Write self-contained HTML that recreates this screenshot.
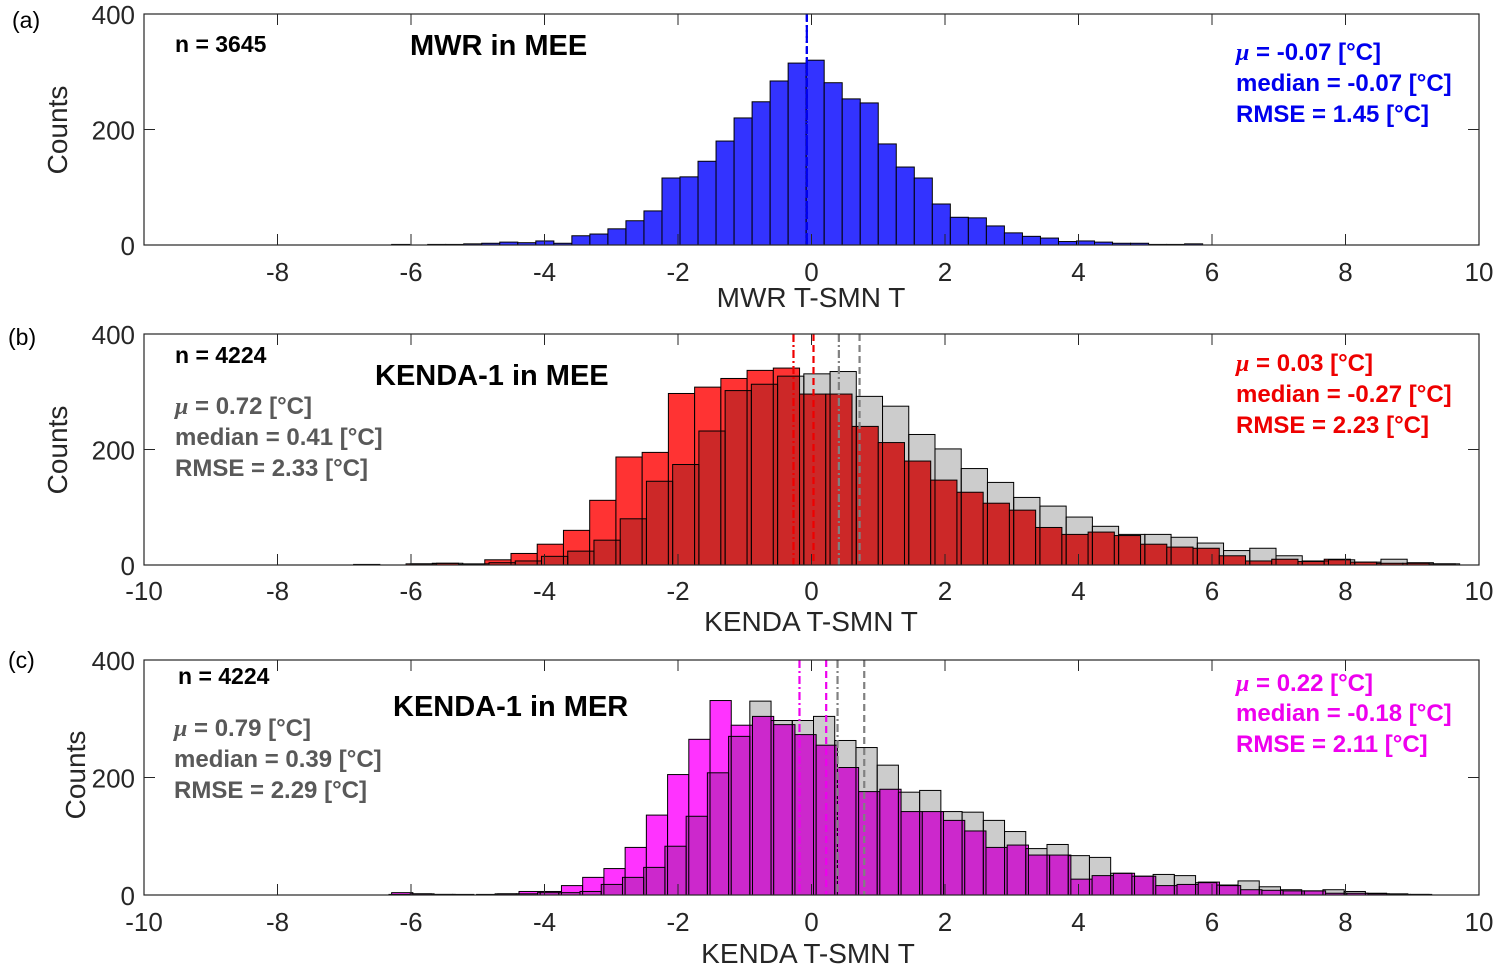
<!DOCTYPE html>
<html><head><meta charset="utf-8"><style>
html,body{margin:0;padding:0;background:#fff;}
svg{display:block;font-family:"Liberation Sans",Arial,sans-serif;}
.tick{font-size:26px;fill:#262626;}
</style></head><body>
<svg id="fig" width="1495" height="968" viewBox="0 0 1495 968" xmlns="http://www.w3.org/2000/svg"></svg>
<script>
// ---- data ----
const xTicks = [-10,-8,-6,-4,-2,0,2,4,6,8,10];
const yTicks = [0,200,400];
// panel a (MWR in MEE)
const mwrStart = -6.29, mwrWidth = 0.27;
const mwrCounts = [1,0,1,1,2,3,5,4,7,3,16,19,28,42,59,116,118,145,180,220,248,284,315,320,281,253,246,175,135,116,71,48,47,33,21,15,12,6,7,5,3,3,1,1,2];
const mwrLines = [-0.07,-0.07];
// panel b (KENDA-1 in MEE)
const meeStart = -6.86, meeWidth = 0.393;
const meeCounts = [1,0,2,3,1,9,20,36,60,112,187,195,297,308,323,337,341,296,296,240,212,180,147,126,107,95,65,53,57,51,36,31,29,16,7,10,6,10,5,3,3,2];
const refBStart = -6.01, refBWidth = 0.393;
const refBCounts = [2,3,2,4,7,15,24,43,80,145,174,232,302,313,327,331,335,292,275,226,201,167,143,117,102,83,67,53,53,48,38,25,29,16,7,9,5,10,4,2];
const meeLines = [-0.27,0.03];
const refBLines = [0.41,0.72];
// panel c (KENDA-1 in MER)
const merStart = -6.29, merWidth = 0.318;
const merCounts = [4,2,1,0,1,2,6,6,16,30,45,81,136,205,265,331,289,304,290,273,255,217,176,180,142,142,127,109,81,85,68,68,27,33,37,32,16,18,22,16,9,8,7,7,3,3,2,1,1];
const refCStart = -6.33, refCWidth = 0.318;
const refCCounts = [1,2,1,1,0,2,2,4,4,6,18,30,47,83,134,208,270,330,297,297,304,263,251,221,175,178,142,141,127,108,79,86,67,64,37,32,35,33,21,17,24,14,9,7,9,6,3,2,1];
const merLines = [-0.18,0.22];
const refCLines = [0.39,0.79];

const NS = "http://www.w3.org/2000/svg";
const svg = document.getElementById('fig');
function mk(tag, attrs, parent){
  const e = document.createElementNS(NS, tag);
  for (const k in attrs) e.setAttribute(k, attrs[k]);
  (parent||svg).appendChild(e);
  return e;
}
const X0 = 144, X1 = 1479;
function xs(v){ return X0 + (v + 10) / 20 * (X1 - X0); }

function panel(cfg){
  const g = mk('g', {});
  
  
  const top = cfg.top, bot = cfg.bot;
  const ys = v => bot - v / 400 * (bot - top);
  cfg.hists.forEach(h => {
    h.counts.forEach((c, i) => {
      if (c <= 0) return;
      const a = h.start + i * h.width, b = a + h.width;
      const r = mk('rect', {x: xs(a), y: ys(c), width: xs(b) - xs(a), height: bot - ys(c), fill: h.fill, stroke: '#000', 'stroke-width': 1}, g);
      
      
    });
  });
  cfg.lines.forEach(l => {
    const ln = mk('line', {x1: xs(l.v), x2: xs(l.v), y1: top, y2: bot, stroke: l.color, 'stroke-width': 2.2, 'stroke-dasharray': l.dash}, g);
    
    
  });
  const box = mk('rect', {x: X0, y: top, width: X1 - X0, height: bot - top, fill: 'none', stroke: '#262626', 'stroke-width': 1.2}, g);
  
  
  xTicks.forEach(t => {
    const x = xs(t);
    mk('line', {x1: x, x2: x, y1: bot, y2: bot - 11, stroke: '#262626', 'stroke-width': 1}, g);
    mk('line', {x1: x, x2: x, y1: top, y2: top + 11, stroke: '#262626', 'stroke-width': 1}, g);
    if (t === -10 && !cfg.showMinus10) return;
    const tx = mk('text', {x: x, y: cfg.xTickY, 'text-anchor': 'middle', class: 'tick'}, g);
    tx.textContent = String(t);
    
    
  });
  yTicks.forEach(t => {
    const y = ys(t);
    mk('line', {x1: X0, x2: X0 + 11, y1: y, y2: y, stroke: '#262626', 'stroke-width': 1}, g);
    mk('line', {x1: X1, x2: X1 - 11, y1: y, y2: y, stroke: '#262626', 'stroke-width': 1}, g);
    const tx = mk('text', {x: 135, y: y + 10, 'text-anchor': 'end', class: 'tick'}, g);
    tx.textContent = String(t);
    
    
  });
}

panel({name:'panel-a', top:14, bot:245, xTickY:281, showMinus10:false,
  hists:[{start:mwrStart,width:mwrWidth,counts:mwrCounts,fill:'#3333ff',barName:'mwr-bar'}],
  lines:[{v:mwrLines[0],color:'#0000ee',dash:'8 3 2 3',name:'mwr-median-line'},{v:mwrLines[1],color:'#0000ee',dash:'7 4',name:'mwr-mean-line'}]});
panel({name:'panel-b', top:334, bot:565, xTickY:600, showMinus10:true,
  hists:[{start:meeStart,width:meeWidth,counts:meeCounts,fill:'#ff3333',barName:'kenda-mee-bar'},
         {start:refBStart,width:refBWidth,counts:refBCounts,fill:'rgba(0,0,0,0.2)',barName:'reference-bar'}],
  lines:[{v:meeLines[0],color:'#ee0000',dash:'8 3 2 3',name:'kenda-median-line'},{v:meeLines[1],color:'#ee0000',dash:'7 4',name:'kenda-mean-line'},
         {v:refBLines[0],color:'#808080',dash:'8 3 2 3',name:'ref-median-line'},{v:refBLines[1],color:'#808080',dash:'7 4',name:'ref-mean-line'}]});
panel({name:'panel-c', top:660, bot:895, xTickY:931, showMinus10:true,
  hists:[{start:merStart,width:merWidth,counts:merCounts,fill:'#ff33ff',barName:'kenda-mer-bar'},
         {start:refCStart,width:refCWidth,counts:refCCounts,fill:'rgba(0,0,0,0.2)',barName:'reference-bar'}],
  lines:[{v:merLines[0],color:'#ee00ee',dash:'8 3 2 3',name:'kenda-median-line'},{v:merLines[1],color:'#ee00ee',dash:'7 4',name:'kenda-mean-line'},
         {v:refCLines[0],color:'#808080',dash:'8 3 2 3',name:'ref-median-line'},{v:refCLines[1],color:'#808080',dash:'7 4',name:'ref-mean-line'}]});
</script>
<svg style="position:absolute;left:0;top:0" width="1495" height="968" xmlns="http://www.w3.org/2000/svg" font-family="Liberation Sans, Arial, sans-serif">
  <g>
    <text x="12" y="28" font-size="23" fill="#000">(a)</text>
    <text transform="translate(67,130) rotate(-90)" text-anchor="middle" font-size="28" fill="#262626">Counts</text>
    <text x="811" y="307" text-anchor="middle" font-size="28" fill="#262626">MWR T-SMN T</text>
    <text x="175" y="52" font-size="23" font-weight="bold">n = 3645</text>
    <text x="410" y="55" font-size="29" font-weight="bold">MWR in MEE</text>
    <g fill="#0000ee" font-size="24" font-weight="bold">
      <text x="1236" y="60"><tspan font-family="Liberation Serif, serif" font-style="italic">μ</tspan> = -0.07 [°C]</text>
      <text x="1236" y="91">median = -0.07 [°C]</text>
      <text x="1236" y="122">RMSE = 1.45 [°C]</text>
    </g>
  </g>
  <g>
    <text x="8" y="345" font-size="23" fill="#000">(b)</text>
    <text transform="translate(67,450) rotate(-90)" text-anchor="middle" font-size="28" fill="#262626">Counts</text>
    <text x="811" y="631" text-anchor="middle" font-size="28" fill="#262626">KENDA T-SMN T</text>
    <text x="175" y="363" font-size="23" font-weight="bold">n = 4224</text>
    <text x="375" y="385" font-size="29" font-weight="bold">KENDA-1 in MEE</text>
    <g fill="#595959" font-size="24" font-weight="bold">
      <text x="175" y="414"><tspan font-family="Liberation Serif, serif" font-style="italic">μ</tspan> = 0.72 [°C]</text>
      <text x="175" y="445">median = 0.41 [°C]</text>
      <text x="175" y="476">RMSE = 2.33 [°C]</text>
    </g>
    <g fill="#ee0000" font-size="24" font-weight="bold">
      <text x="1236" y="371"><tspan font-family="Liberation Serif, serif" font-style="italic">μ</tspan> = 0.03 [°C]</text>
      <text x="1236" y="402">median = -0.27 [°C]</text>
      <text x="1236" y="433">RMSE = 2.23 [°C]</text>
    </g>
  </g>
  <g>
    <text x="8" y="668" font-size="23" fill="#000">(c)</text>
    <text transform="translate(85,775) rotate(-90)" text-anchor="middle" font-size="28" fill="#262626">Counts</text>
    <text x="808" y="963" text-anchor="middle" font-size="28" fill="#262626">KENDA T-SMN T</text>
    <text x="178" y="684" font-size="23" font-weight="bold">n = 4224</text>
    <text x="393" y="716" font-size="29" font-weight="bold">KENDA-1 in MER</text>
    <g fill="#595959" font-size="24" font-weight="bold">
      <text x="174" y="736"><tspan font-family="Liberation Serif, serif" font-style="italic">μ</tspan> = 0.79 [°C]</text>
      <text x="174" y="767">median = 0.39 [°C]</text>
      <text x="174" y="798">RMSE = 2.29 [°C]</text>
    </g>
    <g fill="#ee00ee" font-size="24" font-weight="bold">
      <text x="1236" y="691"><tspan font-family="Liberation Serif, serif" font-style="italic">μ</tspan> = 0.22 [°C]</text>
      <text x="1236" y="721">median = -0.18 [°C]</text>
      <text x="1236" y="752">RMSE = 2.11 [°C]</text>
    </g>
  </g>
</svg>
</body></html>
